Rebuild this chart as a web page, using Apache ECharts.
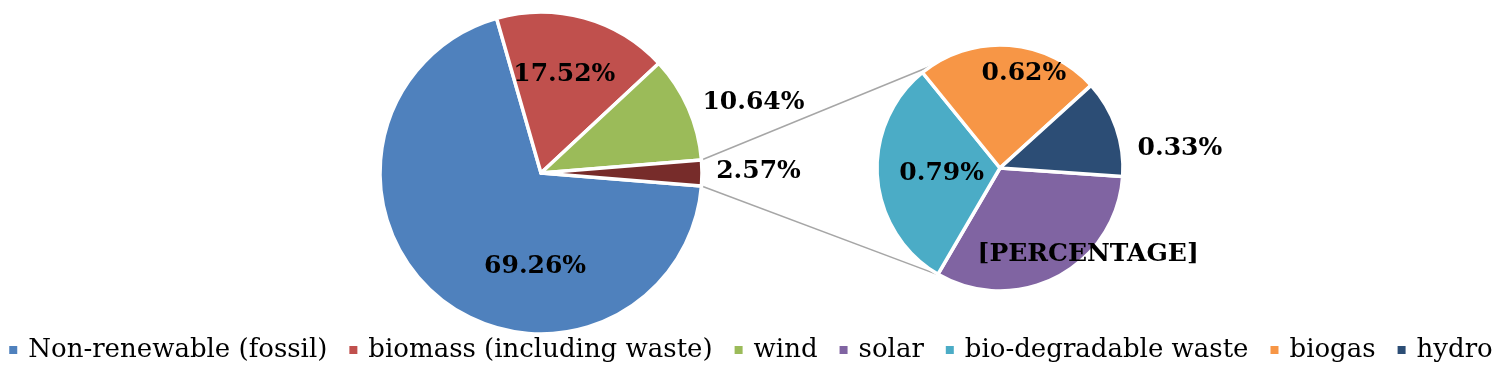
<!DOCTYPE html>
<html><head><meta charset="utf-8">
<script src="https://cdn.jsdelivr.net/npm/echarts@6/dist/echarts.min.js"></script>
<style>html,body{margin:0;padding:0;background:#fff}#c{width:1500px;height:370px}</style>
</head><body><div id="c"></div>
<script>
// ---- data ----
const mainCategories = ['Non-renewable (fossil)', 'biomass (including waste)', 'wind', 'Other'];
const mainValues = [69.26, 17.52, 10.64, 2.57];
const subCategories = ['solar', 'bio-degradable waste', 'biogas', 'hydro'];
const subValues = [0.83, 0.79, 0.62, 0.33];
const subLabelTexts = ['[PERCENTAGE]', null, null, null];
const legendLabels = ['Non-renewable (fossil)', 'biomass (including waste)', 'wind', 'solar', 'bio-degradable waste', 'biogas', 'hydro'];

// ---- styles / layout ----
const mainColors = ['#4F81BD', '#C0504D', '#9BBB59', '#772C2A'];
const subColors = ['#8064A2', '#4BACC6', '#F79646', '#2C4D75'];
const MAIN = {cx: 541, cy: 173, r: 161};
const SUB = {cx: 1000, cy: 168, r: 123, start: -4};
const LINE_ANGLES = [124, -119];
const mainLabelOffsets = [[47, 29], [1, -18], [136, -37], [134, -2]];
const subLabelOffsets = [[58, 29], [6, 1], [19, -30], [119, 2]];
const FONT = 'DejaVu Serif';

const mainTotal = mainValues.reduce((a, b) => a + b, 0);
const halfOther = mainValues[3] / mainTotal * 180;

function pt(c, r, deg) {
  const a = deg * Math.PI / 180;
  return [c.cx + r * Math.cos(a), c.cy - r * Math.sin(a)];
}
const pTop = pt(MAIN, MAIN.r, halfOther), pBot = pt(MAIN, MAIN.r, -halfOther);
const qTop = pt(SUB, SUB.r, LINE_ANGLES[0]), qBot = pt(SUB, SUB.r, LINE_ANGLES[1]);

const labelStyle = {
  show: true, position: 'inside', color: '#000', fontFamily: FONT,
  fontWeight: 'bold', fontSize: 25
};

const chart = echarts.init(document.getElementById('c'), null, {renderer: 'canvas'});
chart.setOption({
  animation: false,
  backgroundColor: '#fff',
  legend: {
    data: legendLabels,
    left: 'center', top: 332,
    icon: 'rect', itemWidth: 10, itemHeight: 10, itemGap: 20,
    selectedMode: false,
    textStyle: {fontFamily: FONT, fontSize: 26, color: '#000', padding: [0, 0, 0, 5]}
  },
  graphic: [
    {type: 'line', z: 0, shape: {x1: pTop[0], y1: pTop[1], x2: qTop[0], y2: qTop[1]}, style: {stroke: '#A6A6A6', lineWidth: 1.5}},
    {type: 'line', z: 0, shape: {x1: pBot[0], y1: pBot[1], x2: qBot[0], y2: qBot[1]}, style: {stroke: '#A6A6A6', lineWidth: 1.5}}
  ],
  series: [
    {
      type: 'pie', z: 5, center: [MAIN.cx, MAIN.cy], radius: MAIN.r,
      startAngle: -halfOther, clockwise: true, avoidLabelOverlap: false, silent: true,
      itemStyle: {borderColor: '#fff', borderWidth: 3.5},
      label: Object.assign({}, labelStyle, {formatter: p => p.value.toFixed(2) + '%'}),
      labelLine: {show: false},
      labelLayout: p => ({dx: mainLabelOffsets[p.dataIndex][0], dy: mainLabelOffsets[p.dataIndex][1]}),
      data: mainCategories.map((n, i) => ({name: n, value: mainValues[i], itemStyle: {color: mainColors[i]}}))
    },
    {
      type: 'pie', z: 5, center: [SUB.cx, SUB.cy], radius: SUB.r,
      startAngle: SUB.start, clockwise: true, avoidLabelOverlap: false, silent: true,
      itemStyle: {borderColor: '#fff', borderWidth: 3.5},
      label: Object.assign({}, labelStyle, {
        formatter: p => subLabelTexts[p.dataIndex] || (p.value.toFixed(2) + '%')
      }),
      labelLine: {show: false},
      labelLayout: p => ({dx: subLabelOffsets[p.dataIndex][0], dy: subLabelOffsets[p.dataIndex][1]}),
      data: subCategories.map((n, i) => ({name: n, value: subValues[i], itemStyle: {color: subColors[i]}}))
    }
  ]
});
</script>
</body></html>
